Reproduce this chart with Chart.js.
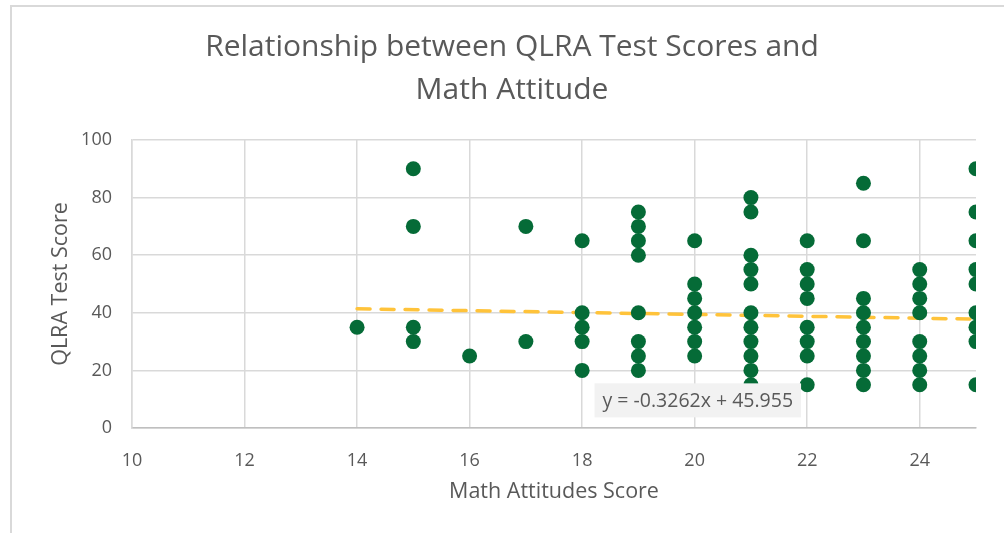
<!DOCTYPE html>
<html>
<head>
<meta charset="utf-8">
<script src="https://cdn.jsdelivr.net/npm/chart.js@4.4.0/dist/chart.umd.min.js"></script>
<style>
  html, body { margin: 0; padding: 0; background: #fff; }
  #wrap { position: relative; width: 1004px; height: 533px; }
  #frame { position: absolute; left: 10px; top: 5px; right: 0; bottom: 0;
           border-left: 2px solid #D9D9D9; border-top: 2px solid #D9D9D9; pointer-events: none; }
  canvas { position: absolute; left: 0; top: 0; }
</style>
</head>
<body>
<div id="wrap">
  <canvas id="c" width="1004" height="533"></canvas>
  <div id="frame"></div>
</div>
<script>
// ---- data ----
const attitudeX = [
  14,
  15, 15, 15, 15,
  16,
  17, 17,
  18, 18, 18, 18, 18,
  19, 19, 19, 19, 19, 19, 19, 19,
  20, 20, 20, 20, 20, 20, 20,
  21, 21, 21, 21, 21, 21, 21, 21, 21, 21, 21,
  22, 22, 22, 22, 22, 22, 22, 22,
  23, 23, 23, 23, 23, 23, 23, 23, 23,
  24, 24, 24, 24, 24, 24, 24, 24,
  25, 25, 25, 25, 25, 25, 25, 25, 25
];
const qlraY = [
  35,
  90, 70, 35, 30,
  25,
  70, 30,
  65, 40, 35, 30, 20,
  75, 70, 65, 60, 40, 30, 25, 20,
  65, 50, 45, 40, 35, 30, 25,
  80, 75, 60, 55, 50, 40, 35, 30, 25, 20, 15,
  65, 55, 50, 45, 35, 30, 25, 15,
  85, 65, 45, 40, 35, 30, 25, 20, 15,
  55, 50, 45, 40, 30, 25, 20, 15,
  90, 75, 65, 55, 50, 40, 35, 30, 15
];
const trendSlope = -0.3262;
const trendIntercept = 45.955;
const trendRangeX = [14, 25];
const trendLabel = 'y = -0.3262x + 45.955';
const xTickValues = [10, 12, 14, 16, 18, 20, 22, 24];
const yTickValues = [0, 20, 40, 60, 80, 100];
const chartTitle = ['Relationship between QLRA Test Scores and', 'Math Attitude'];
const xTitle = 'Math Attitudes Score';
const yTitle = 'QLRA Test Score';

const scatterPts = attitudeX.map((x, i) => ({ x: x, y: qlraY[i] }));
const trendPts = trendRangeX.map(x => ({ x: x, y: trendSlope * x + trendIntercept }));

const FONT = "'Open Sans', 'Liberation Sans', sans-serif";
const GREY = '#595959';

const labelPlugin = {
  id: 'trendLabel',
  afterDatasetsDraw(chart) {
    const ctx = chart.ctx;
    const a = chart.chartArea;
    const bx = a.left + (a.right - a.left) * 0.548;
    const by = a.top + (a.bottom - a.top) * 0.845;
    ctx.save();
    ctx.font = "19.5px " + FONT;
    const w = ctx.measureText(trendLabel).width;
    const padX = 8, h = 34;
    ctx.fillStyle = '#F2F2F2';
    ctx.fillRect(bx, by, w + padX * 2, h);
    ctx.fillStyle = GREY;
    ctx.textBaseline = 'middle';
    ctx.textAlign = 'left';
    ctx.fillText(trendLabel, bx + padX, by + h / 2 + 1);
    ctx.restore();
  }
};

new Chart(document.getElementById('c'), {
  type: 'scatter',
  data: {
    datasets: [
      {
        label: 'QLRA',
        data: scatterPts,
        backgroundColor: '#056B37',
        borderColor: '#056B37',
        pointRadius: 7.5,
        pointHoverRadius: 7.5,
        borderWidth: 0,
        order: 1
      },
      {
        type: 'line',
        label: 'Trend',
        data: trendPts,
        borderColor: '#FFC33A',
        borderWidth: 3.5,
        borderDash: [13, 11],
        borderCapStyle: 'round',
        pointRadius: 0,
        fill: false,
        order: 2
      }
    ]
  },
  options: {
    responsive: false,
    animation: false,
    devicePixelRatio: 1,
    layout: { padding: { left: 48, right: 28, top: 0, bottom: 0 } },
    plugins: {
      legend: { display: false },
      tooltip: { enabled: false },
      title: {
        display: true,
        text: chartTitle,
        color: GREY,
        font: { family: FONT, size: 30, weight: 'normal', lineHeight: 1.433 },
        padding: { top: 25.5, bottom: 28.5 }
      }
    },
    scales: {
      x: {
        type: 'linear',
        min: 10,
        max: 25,
        afterBuildTicks: s => { s.ticks = xTickValues.map(v => ({ value: v })); },
        ticks: { color: GREY, font: { family: FONT, size: 18 }, padding: 22, includeBounds: false },
        grid: { color: '#D9D9D9', lineWidth: 1.5, drawTicks: false },
        border: { display: true, color: '#BFBFBF', width: 1.5 },
        title: { display: true, text: xTitle, color: GREY, font: { family: FONT, size: 21.5, lineHeight: 1.2 }, padding: { top: 6, bottom: 28 } },
        afterFit: s => { s.height = 533 - 428; }
      },
      y: {
        type: 'linear',
        min: 0,
        max: 100,
        afterBuildTicks: s => { s.ticks = yTickValues.map(v => ({ value: v })); },
        ticks: { color: GREY, font: { family: FONT, size: 18 }, padding: 20 },
        grid: { color: '#D9D9D9', lineWidth: 1.5, drawTicks: false },
        border: { display: true, color: '#D9D9D9', width: 1.5 },
        title: { display: true, text: yTitle, color: GREY, font: { family: FONT, size: 21.5, lineHeight: 1.2 }, padding: { top: 0, bottom: 14 } },
        afterFit: s => { s.width = 132 - 48; }
      }
    }
  },
  plugins: [labelPlugin]
});
</script>
</body>
</html>
